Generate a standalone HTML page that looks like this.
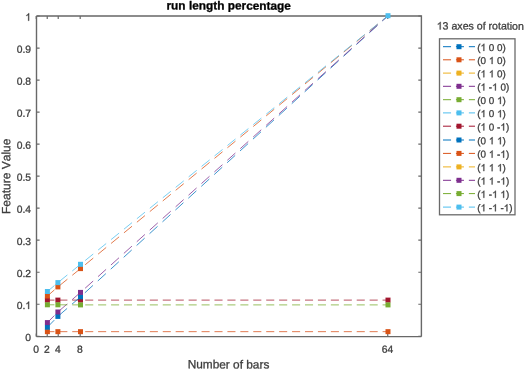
<!DOCTYPE html>
<html><head><meta charset="utf-8"><title>run length percentage</title><style>
html,body{margin:0;padding:0;background:#fff;}
body{width:525px;height:370px;overflow:hidden;}
svg{display:block;font-family:"Liberation Sans",sans-serif;font-kerning:none;}
text{stroke-width:0.3px;stroke-linejoin:round;}
tspan.o{fill-opacity:0;stroke-opacity:0;}
</style></head><body>
<svg width="525" height="370" viewBox="0 0 525 370">
<filter id="bl" x="-5%" y="-5%" width="110%" height="110%"><feGaussianBlur stdDeviation="0.45"/></filter>
<rect x="0" y="0" width="525" height="370" fill="#fff"/>
<g filter="url(#bl)">
<path d="M36.5 336.6 H421.4 M36.5 336.6 V16.0 M36.5 16.0 H421.4 V336.6" fill="none" stroke="#686868" stroke-width="1.4"/>
<path d="M36.5 336.30 h3.1 M421.4 336.30 h-3.1 M36.5 304.27 h3.1 M421.4 304.27 h-3.1 M36.5 272.24 h3.1 M421.4 272.24 h-3.1 M36.5 240.21 h3.1 M421.4 240.21 h-3.1 M36.5 208.18 h3.1 M421.4 208.18 h-3.1 M36.5 176.15 h3.1 M421.4 176.15 h-3.1 M36.5 144.12 h3.1 M421.4 144.12 h-3.1 M36.5 112.09 h3.1 M421.4 112.09 h-3.1 M36.5 80.06 h3.1 M421.4 80.06 h-3.1 M36.5 48.03 h3.1 M421.4 48.03 h-3.1 M36.5 16.00 h3.1 M421.4 16.00 h-3.1 M36.25 336.6 v-3.1 M36.25 16.0 v3.1 M47.23 336.6 v-3.1 M47.23 16.0 v3.1 M58.22 336.6 v-3.1 M58.22 16.0 v3.1 M80.19 336.6 v-3.1 M80.19 16.0 v3.1 M387.75 336.6 v-3.1 M387.75 16.0 v3.1" fill="none" stroke="#686868" stroke-width="1.2"/>
<path d="M47.40 331.65L54.45 331.65 M59.33 331.65L67.38 331.65 M72.26 331.65L80.31 331.65 M80.31 331.65L80.31 331.65 M85.19 331.65L93.24 331.65 M98.12 331.65L106.17 331.65 M106.17 331.65L106.17 331.65 M111.05 331.65L119.10 331.65 M119.10 331.65L119.10 331.65 M123.98 331.65L132.03 331.65 M132.03 331.65L132.03 331.65 M136.91 331.65L144.96 331.65 M149.84 331.65L157.89 331.65 M157.89 331.65L157.89 331.65 M162.77 331.65L170.82 331.65 M175.70 331.65L183.75 331.65 M183.75 331.65L183.75 331.65 M188.63 331.65L196.68 331.65 M201.56 331.65L209.61 331.65 M209.61 331.65L209.61 331.65 M214.49 331.65L222.54 331.65 M222.54 331.65L222.54 331.65 M227.42 331.65L235.47 331.65 M235.47 331.65L235.47 331.65 M240.35 331.65L248.40 331.65 M253.28 331.65L261.33 331.65 M266.21 331.65L274.26 331.65 M274.26 331.65L274.26 331.65 M279.14 331.65L287.19 331.65 M287.19 331.65L287.19 331.65 M292.07 331.65L300.12 331.65 M305.00 331.65L313.05 331.65 M313.05 331.65L313.05 331.65 M317.93 331.65L325.98 331.65 M325.98 331.65L325.98 331.65 M330.86 331.65L338.91 331.65 M338.91 331.65L338.91 331.65 M343.79 331.65L351.84 331.65 M356.72 331.65L364.77 331.65 M369.65 331.65L377.70 331.65 M382.58 331.65L388.00 331.65" fill="none" stroke="#D95319" stroke-width="0.9" stroke-opacity="0.85"/>
<rect x="44.90" y="329.15" width="5.0" height="5.0" fill="#D95319"/>
<rect x="55.40" y="329.15" width="5.0" height="5.0" fill="#D95319"/>
<rect x="78.00" y="329.15" width="5.0" height="5.0" fill="#D95319"/>
<rect x="385.50" y="329.15" width="5.0" height="5.0" fill="#D95319"/>
<path d="M47.40 300.10L54.45 300.10 M59.33 300.10L67.38 300.10 M72.26 300.10L80.31 300.10 M80.31 300.10L80.31 300.10 M85.19 300.10L93.24 300.10 M98.12 300.10L106.17 300.10 M106.17 300.10L106.17 300.10 M111.05 300.10L119.10 300.10 M119.10 300.10L119.10 300.10 M123.98 300.10L132.03 300.10 M132.03 300.10L132.03 300.10 M136.91 300.10L144.96 300.10 M149.84 300.10L157.89 300.10 M157.89 300.10L157.89 300.10 M162.77 300.10L170.82 300.10 M175.70 300.10L183.75 300.10 M183.75 300.10L183.75 300.10 M188.63 300.10L196.68 300.10 M201.56 300.10L209.61 300.10 M209.61 300.10L209.61 300.10 M214.49 300.10L222.54 300.10 M222.54 300.10L222.54 300.10 M227.42 300.10L235.47 300.10 M235.47 300.10L235.47 300.10 M240.35 300.10L248.40 300.10 M253.28 300.10L261.33 300.10 M266.21 300.10L274.26 300.10 M274.26 300.10L274.26 300.10 M279.14 300.10L287.19 300.10 M287.19 300.10L287.19 300.10 M292.07 300.10L300.12 300.10 M305.00 300.10L313.05 300.10 M313.05 300.10L313.05 300.10 M317.93 300.10L325.98 300.10 M325.98 300.10L325.98 300.10 M330.86 300.10L338.91 300.10 M338.91 300.10L338.91 300.10 M343.79 300.10L351.84 300.10 M356.72 300.10L364.77 300.10 M369.65 300.10L377.70 300.10 M382.58 300.10L388.00 300.10" fill="none" stroke="#A2142F" stroke-width="0.9" stroke-opacity="0.85"/>
<rect x="44.90" y="297.60" width="5.0" height="5.0" fill="#A2142F"/>
<rect x="55.40" y="297.60" width="5.0" height="5.0" fill="#A2142F"/>
<rect x="78.00" y="297.60" width="5.0" height="5.0" fill="#A2142F"/>
<rect x="385.50" y="297.60" width="5.0" height="5.0" fill="#A2142F"/>
<path d="M47.40 327.20L54.25 320.15 M59.03 315.42L67.08 308.44 M71.96 304.21L80.01 297.22 M80.01 297.22L80.01 297.22 M84.89 292.79L92.94 285.43 M97.82 280.97L105.87 273.61 M105.87 273.61L105.87 273.61 M110.75 269.15L118.80 261.79 M118.80 261.79L118.80 261.79 M123.68 257.33L131.73 249.97 M131.73 249.97L131.73 249.97 M136.61 245.51L144.66 238.15 M149.54 233.69L157.59 226.33 M157.59 226.33L157.59 226.33 M162.47 221.87L170.52 214.51 M175.40 210.05L183.45 202.69 M183.45 202.69L183.45 202.69 M188.33 198.23L196.38 190.87 M201.26 186.41L209.31 179.05 M209.31 179.05L209.31 179.05 M214.19 174.59L222.24 167.23 M222.24 167.23L222.24 167.23 M227.12 162.77L235.17 155.41 M235.17 155.41L235.17 155.41 M240.05 150.95L248.10 143.59 M252.98 139.13L261.03 131.77 M265.91 127.31L273.96 119.95 M273.96 119.95L273.96 119.95 M278.84 115.49L286.89 108.13 M286.89 108.13L286.89 108.13 M291.77 103.67L299.82 96.31 M304.70 91.85L312.75 84.49 M312.75 84.49L312.75 84.49 M317.63 80.03L325.68 72.67 M325.68 72.67L325.68 72.67 M330.56 68.21L338.61 60.85 M338.61 60.85L338.61 60.85 M343.49 56.39L351.54 49.03 M356.42 44.57L364.47 37.21 M369.35 32.75L377.40 25.39 M382.28 20.93L388.00 15.70" fill="none" stroke="#0072BD" stroke-width="0.9" stroke-opacity="0.85"/>
<rect x="44.90" y="324.70" width="5.0" height="5.0" fill="#0072BD"/>
<rect x="55.40" y="313.90" width="5.0" height="5.0" fill="#0072BD"/>
<rect x="78.00" y="294.30" width="5.0" height="5.0" fill="#0072BD"/>
<path d="M47.40 296.00L54.45 289.89 M59.33 285.74L67.38 279.22 M72.26 275.27L80.31 268.75 M80.31 268.75L80.31 268.75 M85.19 264.74L93.24 258.12 M98.12 254.11L106.17 247.49 M106.17 247.49L106.17 247.49 M111.05 243.47L119.10 236.85 M119.10 236.85L119.10 236.85 M123.98 232.84L132.03 226.22 M132.03 226.22L132.03 226.22 M136.91 222.21L144.96 215.59 M149.84 211.57L157.89 204.95 M157.89 204.95L157.89 204.95 M162.77 200.94L170.82 194.32 M175.70 190.30L183.75 183.68 M183.75 183.68L183.75 183.68 M188.63 179.67L196.68 173.05 M201.56 169.04L209.61 162.41 M209.61 162.41L209.61 162.41 M214.49 158.40L222.54 151.78 M222.54 151.78L222.54 151.78 M227.42 147.77L235.47 141.15 M235.47 141.15L235.47 141.15 M240.35 137.13L248.40 130.51 M253.28 126.50L261.33 119.88 M266.21 115.86L274.26 109.24 M274.26 109.24L274.26 109.24 M279.14 105.23L287.19 98.61 M287.19 98.61L287.19 98.61 M292.07 94.60L300.12 87.98 M305.00 83.96L313.05 77.34 M313.05 77.34L313.05 77.34 M317.93 73.33L325.98 66.71 M325.98 66.71L325.98 66.71 M330.86 62.69L338.91 56.07 M338.91 56.07L338.91 56.07 M343.79 52.06L351.84 45.44 M356.72 41.43L364.77 34.81 M369.65 30.79L377.70 24.17 M382.58 20.16L388.00 15.70" fill="none" stroke="#D95319" stroke-width="0.9" stroke-opacity="0.85"/>
<rect x="44.90" y="293.50" width="5.0" height="5.0" fill="#D95319"/>
<rect x="55.40" y="284.40" width="5.0" height="5.0" fill="#D95319"/>
<rect x="78.00" y="266.10" width="5.0" height="5.0" fill="#D95319"/>
<path d="M47.40 322.60L54.38 315.55 M59.23 310.85L67.28 303.87 M72.16 299.63L80.21 292.65 M80.21 292.65L80.21 292.65 M85.09 288.27L93.14 281.03 M98.02 276.63L106.07 269.39 M106.07 269.39L106.07 269.39 M110.95 265.00L119.00 257.76 M119.00 257.76L119.00 257.76 M123.88 253.37L131.93 246.12 M131.93 246.12L131.93 246.12 M136.81 241.73L144.86 234.49 M149.74 230.10L157.79 222.85 M157.79 222.85L157.79 222.85 M162.67 218.46L170.72 211.22 M175.60 206.83L183.65 199.58 M183.65 199.58L183.65 199.58 M188.53 195.19L196.58 187.95 M201.46 183.56L209.51 176.31 M209.51 176.31L209.51 176.31 M214.39 171.92L222.44 164.68 M222.44 164.68L222.44 164.68 M227.32 160.29L235.37 153.04 M235.37 153.04L235.37 153.04 M240.25 148.65L248.30 141.41 M253.18 137.02L261.23 129.77 M266.11 125.38L274.16 118.14 M274.16 118.14L274.16 118.14 M279.04 113.75L287.09 106.50 M287.09 106.50L287.09 106.50 M291.97 102.11L300.02 94.87 M304.90 90.48L312.95 83.23 M312.95 83.23L312.95 83.23 M317.83 78.84L325.88 71.60 M325.88 71.60L325.88 71.60 M330.76 67.21L338.81 59.96 M338.81 59.96L338.81 59.96 M343.69 55.57L351.74 48.33 M356.62 43.94L364.67 36.69 M369.55 32.30L377.60 25.06 M382.48 20.67L388.00 15.70" fill="none" stroke="#7E2F8E" stroke-width="0.9" stroke-opacity="0.85"/>
<rect x="44.90" y="320.10" width="5.0" height="5.0" fill="#7E2F8E"/>
<rect x="55.40" y="309.50" width="5.0" height="5.0" fill="#7E2F8E"/>
<rect x="78.00" y="289.90" width="5.0" height="5.0" fill="#7E2F8E"/>
<path d="M47.40 304.80L54.45 304.80 M59.33 304.81L67.38 304.84 M72.26 304.86L80.31 304.90 M80.31 304.90L80.31 304.90 M85.19 304.90L93.24 304.90 M98.12 304.90L106.17 304.90 M106.17 304.90L106.17 304.90 M111.05 304.90L119.10 304.90 M119.10 304.90L119.10 304.90 M123.98 304.90L132.03 304.90 M132.03 304.90L132.03 304.90 M136.91 304.90L144.96 304.90 M149.84 304.90L157.89 304.90 M157.89 304.90L157.89 304.90 M162.77 304.90L170.82 304.90 M175.70 304.90L183.75 304.90 M183.75 304.90L183.75 304.90 M188.63 304.90L196.68 304.90 M201.56 304.90L209.61 304.90 M209.61 304.90L209.61 304.90 M214.49 304.90L222.54 304.90 M222.54 304.90L222.54 304.90 M227.42 304.90L235.47 304.90 M235.47 304.90L235.47 304.90 M240.35 304.90L248.40 304.90 M253.28 304.90L261.33 304.90 M266.21 304.90L274.26 304.90 M274.26 304.90L274.26 304.90 M279.14 304.90L287.19 304.90 M287.19 304.90L287.19 304.90 M292.07 304.90L300.12 304.90 M305.00 304.90L313.05 304.90 M313.05 304.90L313.05 304.90 M317.93 304.90L325.98 304.90 M325.98 304.90L325.98 304.90 M330.86 304.90L338.91 304.90 M338.91 304.90L338.91 304.90 M343.79 304.90L351.84 304.90 M356.72 304.90L364.77 304.90 M369.65 304.90L377.70 304.90 M382.58 304.90L388.00 304.90" fill="none" stroke="#77AC30" stroke-width="0.9" stroke-opacity="0.85"/>
<rect x="44.90" y="302.30" width="5.0" height="5.0" fill="#77AC30"/>
<rect x="55.40" y="302.30" width="5.0" height="5.0" fill="#77AC30"/>
<rect x="78.00" y="302.40" width="5.0" height="5.0" fill="#77AC30"/>
<rect x="385.50" y="302.40" width="5.0" height="5.0" fill="#77AC30"/>
<path d="M47.40 291.50L54.45 285.52 M59.33 281.44L67.38 274.92 M72.26 270.97L80.31 264.45 M80.31 264.45L80.31 264.45 M85.19 260.51L93.24 254.00 M98.12 250.06L106.17 243.55 M106.17 243.55L106.17 243.55 M111.05 239.60L119.10 233.09 M119.10 233.09L119.10 233.09 M123.98 229.15L132.03 222.64 M132.03 222.64L132.03 222.64 M136.91 218.70L144.96 212.19 M149.84 208.24L157.89 201.73 M157.89 201.73L157.89 201.73 M162.77 197.79L170.82 191.28 M175.70 187.34L183.75 180.83 M183.75 180.83L183.75 180.83 M188.63 176.88L196.68 170.37 M201.56 166.43L209.61 159.92 M209.61 159.92L209.61 159.92 M214.49 155.98L222.54 149.47 M222.54 149.47L222.54 149.47 M227.42 145.52L235.47 139.01 M235.47 139.01L235.47 139.01 M240.35 135.07L248.40 128.56 M253.28 124.62L261.33 118.11 M266.21 114.16L274.26 107.65 M274.26 107.65L274.26 107.65 M279.14 103.71L287.19 97.20 M287.19 97.20L287.19 97.20 M292.07 93.26L300.12 86.75 M305.00 82.80L313.05 76.29 M313.05 76.29L313.05 76.29 M317.93 72.35L325.98 65.84 M325.98 65.84L325.98 65.84 M330.86 61.90L338.91 55.39 M338.91 55.39L338.91 55.39 M343.79 51.44L351.84 44.93 M356.72 40.99L364.77 34.48 M369.65 30.54L377.70 24.03 M382.58 20.08L388.00 15.70" fill="none" stroke="#4DBEEE" stroke-width="0.9" stroke-opacity="0.85"/>
<rect x="44.90" y="289.00" width="5.0" height="5.0" fill="#4DBEEE"/>
<rect x="55.40" y="280.10" width="5.0" height="5.0" fill="#4DBEEE"/>
<rect x="78.00" y="261.80" width="5.0" height="5.0" fill="#4DBEEE"/>
<rect x="385.50" y="13.20" width="5.0" height="5.0" fill="#4DBEEE"/>
<rect x="439.5" y="38.8" width="75.5" height="176" fill="#fff" stroke="#6a6a6a" stroke-width="1.3"/>
<path d="M443.00 46.70L451.05 46.70 M455.93 46.70L463.98 46.70 M468.86 46.70L475.00 46.70" fill="none" stroke="#0072BD" stroke-width="1"/>
<rect x="456.50" y="44.20" width="5.0" height="5.0" fill="#0072BD"/>
<path d="M443.00 59.80L451.05 59.80 M455.93 59.80L463.98 59.80 M468.86 59.80L475.00 59.80" fill="none" stroke="#D95319" stroke-width="1"/>
<rect x="456.50" y="57.30" width="5.0" height="5.0" fill="#D95319"/>
<path d="M443.00 73.10L451.05 73.10 M455.93 73.10L463.98 73.10 M468.86 73.10L475.00 73.10" fill="none" stroke="#EDB120" stroke-width="1"/>
<rect x="456.50" y="70.60" width="5.0" height="5.0" fill="#EDB120"/>
<path d="M443.00 86.30L451.05 86.30 M455.93 86.30L463.98 86.30 M468.86 86.30L475.00 86.30" fill="none" stroke="#7E2F8E" stroke-width="1"/>
<rect x="456.50" y="83.80" width="5.0" height="5.0" fill="#7E2F8E"/>
<path d="M443.00 99.70L451.05 99.70 M455.93 99.70L463.98 99.70 M468.86 99.70L475.00 99.70" fill="none" stroke="#77AC30" stroke-width="1"/>
<rect x="456.50" y="97.20" width="5.0" height="5.0" fill="#77AC30"/>
<path d="M443.00 112.90L451.05 112.90 M455.93 112.90L463.98 112.90 M468.86 112.90L475.00 112.90" fill="none" stroke="#4DBEEE" stroke-width="1"/>
<rect x="456.50" y="110.40" width="5.0" height="5.0" fill="#4DBEEE"/>
<path d="M443.00 126.20L451.05 126.20 M455.93 126.20L463.98 126.20 M468.86 126.20L475.00 126.20" fill="none" stroke="#A2142F" stroke-width="1"/>
<rect x="456.50" y="123.70" width="5.0" height="5.0" fill="#A2142F"/>
<path d="M443.00 140.00L451.05 140.00 M455.93 140.00L463.98 140.00 M468.86 140.00L475.00 140.00" fill="none" stroke="#0072BD" stroke-width="1"/>
<rect x="456.50" y="137.50" width="5.0" height="5.0" fill="#0072BD"/>
<path d="M443.00 153.40L451.05 153.40 M455.93 153.40L463.98 153.40 M468.86 153.40L475.00 153.40" fill="none" stroke="#D95319" stroke-width="1"/>
<rect x="456.50" y="150.90" width="5.0" height="5.0" fill="#D95319"/>
<path d="M443.00 166.90L451.05 166.90 M455.93 166.90L463.98 166.90 M468.86 166.90L475.00 166.90" fill="none" stroke="#EDB120" stroke-width="1"/>
<rect x="456.50" y="164.40" width="5.0" height="5.0" fill="#EDB120"/>
<path d="M443.00 180.30L451.05 180.30 M455.93 180.30L463.98 180.30 M468.86 180.30L475.00 180.30" fill="none" stroke="#7E2F8E" stroke-width="1"/>
<rect x="456.50" y="177.80" width="5.0" height="5.0" fill="#7E2F8E"/>
<path d="M443.00 193.60L451.05 193.60 M455.93 193.60L463.98 193.60 M468.86 193.60L475.00 193.60" fill="none" stroke="#77AC30" stroke-width="1"/>
<rect x="456.50" y="191.10" width="5.0" height="5.0" fill="#77AC30"/>
<path d="M443.00 207.10L451.05 207.10 M455.93 207.10L463.98 207.10 M468.86 207.10L475.00 207.10" fill="none" stroke="#4DBEEE" stroke-width="1"/>
<rect x="456.50" y="204.60" width="5.0" height="5.0" fill="#4DBEEE"/>
<g>
<text transform="translate(31.00,341.00) rotate(0.1)" font-size="10.3px" fill="#3e3e3e" stroke="#3e3e3e" text-anchor="end">0</text>
<text transform="translate(31.00,308.97) rotate(0.1)" font-size="10.3px" fill="#3e3e3e" stroke="#3e3e3e" text-anchor="end">0.<tspan class="o">1</tspan></text>
<text transform="translate(31.00,276.94) rotate(0.1)" font-size="10.3px" fill="#3e3e3e" stroke="#3e3e3e" text-anchor="end">0.2</text>
<text transform="translate(31.00,244.91) rotate(0.1)" font-size="10.3px" fill="#3e3e3e" stroke="#3e3e3e" text-anchor="end">0.3</text>
<text transform="translate(31.00,212.88) rotate(0.1)" font-size="10.3px" fill="#3e3e3e" stroke="#3e3e3e" text-anchor="end">0.4</text>
<text transform="translate(31.00,180.85) rotate(0.1)" font-size="10.3px" fill="#3e3e3e" stroke="#3e3e3e" text-anchor="end">0.5</text>
<text transform="translate(31.00,148.82) rotate(0.1)" font-size="10.3px" fill="#3e3e3e" stroke="#3e3e3e" text-anchor="end">0.6</text>
<text transform="translate(31.00,116.79) rotate(0.1)" font-size="10.3px" fill="#3e3e3e" stroke="#3e3e3e" text-anchor="end">0.7</text>
<text transform="translate(31.00,84.76) rotate(0.1)" font-size="10.3px" fill="#3e3e3e" stroke="#3e3e3e" text-anchor="end">0.8</text>
<text transform="translate(31.00,52.73) rotate(0.1)" font-size="10.3px" fill="#3e3e3e" stroke="#3e3e3e" text-anchor="end">0.9</text>
<text transform="translate(31.00,20.70) rotate(0.1)" font-size="10.3px" fill="#3e3e3e" stroke="#3e3e3e" text-anchor="end"><tspan class="o">1</tspan></text>
<text transform="translate(36.00,352.70) rotate(0.1)" font-size="10.3px" fill="#3e3e3e" stroke="#3e3e3e" text-anchor="middle">0</text>
<text transform="translate(46.98,352.70) rotate(0.1)" font-size="10.3px" fill="#3e3e3e" stroke="#3e3e3e" text-anchor="middle">2</text>
<text transform="translate(57.97,352.70) rotate(0.1)" font-size="10.3px" fill="#3e3e3e" stroke="#3e3e3e" text-anchor="middle">4</text>
<text transform="translate(79.94,352.70) rotate(0.1)" font-size="10.3px" fill="#3e3e3e" stroke="#3e3e3e" text-anchor="middle">8</text>
<text transform="translate(387.50,352.70) rotate(0.1)" font-size="10.3px" fill="#3e3e3e" stroke="#3e3e3e" text-anchor="middle">64</text>
<text transform="translate(228.70,9.60) rotate(0.1)" font-size="11.85px" fill="#000" stroke="#000" text-anchor="middle" font-weight="bold">run length percentage</text>
<text transform="translate(228.50,368.40) rotate(0.1)" font-size="11.85px" fill="#3e3e3e" stroke="#3e3e3e" text-anchor="middle">Number of bars</text>
<text transform="translate(10.30,176.30) rotate(-89.9)" font-size="12.0px" fill="#3e3e3e" stroke="#3e3e3e" text-anchor="middle">Feature Value</text>
<text transform="translate(436.70,29.50) rotate(0.1)" font-size="10.6px" fill="#3e3e3e" stroke="#3e3e3e"><tspan class="o">1</tspan>3 axes of rotation</text>
<text transform="translate(477.30,50.90) rotate(0.1)" font-size="9.9px" fill="#3e3e3e" stroke="#3e3e3e">(<tspan class="o">1</tspan> 0 0)</text>
<text transform="translate(477.30,64.00) rotate(0.1)" font-size="9.9px" fill="#3e3e3e" stroke="#3e3e3e">(0 <tspan class="o">1</tspan> 0)</text>
<text transform="translate(477.30,77.30) rotate(0.1)" font-size="9.9px" fill="#3e3e3e" stroke="#3e3e3e">(<tspan class="o">1</tspan> <tspan class="o">1</tspan> 0)</text>
<text transform="translate(477.30,90.50) rotate(0.1)" font-size="9.9px" fill="#3e3e3e" stroke="#3e3e3e">(<tspan class="o">1</tspan> -<tspan class="o">1</tspan> 0)</text>
<text transform="translate(477.30,103.90) rotate(0.1)" font-size="9.9px" fill="#3e3e3e" stroke="#3e3e3e">(0 0 <tspan class="o">1</tspan>)</text>
<text transform="translate(477.30,117.10) rotate(0.1)" font-size="9.9px" fill="#3e3e3e" stroke="#3e3e3e">(<tspan class="o">1</tspan> 0 <tspan class="o">1</tspan>)</text>
<text transform="translate(477.30,130.40) rotate(0.1)" font-size="9.9px" fill="#3e3e3e" stroke="#3e3e3e">(<tspan class="o">1</tspan> 0 -<tspan class="o">1</tspan>)</text>
<text transform="translate(477.30,144.20) rotate(0.1)" font-size="9.9px" fill="#3e3e3e" stroke="#3e3e3e">(0 <tspan class="o">1</tspan> <tspan class="o">1</tspan>)</text>
<text transform="translate(477.30,157.60) rotate(0.1)" font-size="9.9px" fill="#3e3e3e" stroke="#3e3e3e">(0 <tspan class="o">1</tspan> -<tspan class="o">1</tspan>)</text>
<text transform="translate(477.30,171.10) rotate(0.1)" font-size="9.9px" fill="#3e3e3e" stroke="#3e3e3e">(<tspan class="o">1</tspan> <tspan class="o">1</tspan> <tspan class="o">1</tspan>)</text>
<text transform="translate(477.30,184.50) rotate(0.1)" font-size="9.9px" fill="#3e3e3e" stroke="#3e3e3e">(<tspan class="o">1</tspan> <tspan class="o">1</tspan> -<tspan class="o">1</tspan>)</text>
<text transform="translate(477.30,197.80) rotate(0.1)" font-size="9.9px" fill="#3e3e3e" stroke="#3e3e3e">(<tspan class="o">1</tspan> -<tspan class="o">1</tspan> <tspan class="o">1</tspan>)</text>
<text transform="translate(477.30,211.30) rotate(0.1)" font-size="9.9px" fill="#3e3e3e" stroke="#3e3e3e">(<tspan class="o">1</tspan> -<tspan class="o">1</tspan> -<tspan class="o">1</tspan>)</text>
<path transform="translate(31.00,308.97) rotate(0.1) translate(-5.728,0) scale(0.005029,-0.005029)" d="M763 0H583V1147Q518 1085 412.5 1023Q307 961 223 930V1104Q374 1175 487 1276Q600 1377 647 1472H763V0Z" fill="#3e3e3e" stroke="#3e3e3e" stroke-width="59.7"/><path transform="translate(31.00,20.70) rotate(0.1) translate(-5.728,0) scale(0.005029,-0.005029)" d="M763 0H583V1147Q518 1085 412.5 1023Q307 961 223 930V1104Q374 1175 487 1276Q600 1377 647 1472H763V0Z" fill="#3e3e3e" stroke="#3e3e3e" stroke-width="59.7"/><path transform="translate(436.70,29.50) rotate(0.1) translate(0.000,0) scale(0.005176,-0.005176)" d="M763 0H583V1147Q518 1085 412.5 1023Q307 961 223 930V1104Q374 1175 487 1276Q600 1377 647 1472H763V0Z" fill="#3e3e3e" stroke="#3e3e3e" stroke-width="58.0"/><path transform="translate(477.30,50.90) rotate(0.1) translate(3.297,0) scale(0.004834,-0.004834)" d="M763 0H583V1147Q518 1085 412.5 1023Q307 961 223 930V1104Q374 1175 487 1276Q600 1377 647 1472H763V0Z" fill="#3e3e3e" stroke="#3e3e3e" stroke-width="62.1"/><path transform="translate(477.30,64.00) rotate(0.1) translate(11.553,0) scale(0.004834,-0.004834)" d="M763 0H583V1147Q518 1085 412.5 1023Q307 961 223 930V1104Q374 1175 487 1276Q600 1377 647 1472H763V0Z" fill="#3e3e3e" stroke="#3e3e3e" stroke-width="62.1"/><path transform="translate(477.30,77.30) rotate(0.1) translate(3.297,0) scale(0.004834,-0.004834)" d="M763 0H583V1147Q518 1085 412.5 1023Q307 961 223 930V1104Q374 1175 487 1276Q600 1377 647 1472H763V0Z" fill="#3e3e3e" stroke="#3e3e3e" stroke-width="62.1"/><path transform="translate(477.30,77.30) rotate(0.1) translate(11.553,0) scale(0.004834,-0.004834)" d="M763 0H583V1147Q518 1085 412.5 1023Q307 961 223 930V1104Q374 1175 487 1276Q600 1377 647 1472H763V0Z" fill="#3e3e3e" stroke="#3e3e3e" stroke-width="62.1"/><path transform="translate(477.30,90.50) rotate(0.1) translate(3.297,0) scale(0.004834,-0.004834)" d="M763 0H583V1147Q518 1085 412.5 1023Q307 961 223 930V1104Q374 1175 487 1276Q600 1377 647 1472H763V0Z" fill="#3e3e3e" stroke="#3e3e3e" stroke-width="62.1"/><path transform="translate(477.30,90.50) rotate(0.1) translate(14.850,0) scale(0.004834,-0.004834)" d="M763 0H583V1147Q518 1085 412.5 1023Q307 961 223 930V1104Q374 1175 487 1276Q600 1377 647 1472H763V0Z" fill="#3e3e3e" stroke="#3e3e3e" stroke-width="62.1"/><path transform="translate(477.30,103.90) rotate(0.1) translate(19.810,0) scale(0.004834,-0.004834)" d="M763 0H583V1147Q518 1085 412.5 1023Q307 961 223 930V1104Q374 1175 487 1276Q600 1377 647 1472H763V0Z" fill="#3e3e3e" stroke="#3e3e3e" stroke-width="62.1"/><path transform="translate(477.30,117.10) rotate(0.1) translate(3.297,0) scale(0.004834,-0.004834)" d="M763 0H583V1147Q518 1085 412.5 1023Q307 961 223 930V1104Q374 1175 487 1276Q600 1377 647 1472H763V0Z" fill="#3e3e3e" stroke="#3e3e3e" stroke-width="62.1"/><path transform="translate(477.30,117.10) rotate(0.1) translate(19.810,0) scale(0.004834,-0.004834)" d="M763 0H583V1147Q518 1085 412.5 1023Q307 961 223 930V1104Q374 1175 487 1276Q600 1377 647 1472H763V0Z" fill="#3e3e3e" stroke="#3e3e3e" stroke-width="62.1"/><path transform="translate(477.30,130.40) rotate(0.1) translate(3.297,0) scale(0.004834,-0.004834)" d="M763 0H583V1147Q518 1085 412.5 1023Q307 961 223 930V1104Q374 1175 487 1276Q600 1377 647 1472H763V0Z" fill="#3e3e3e" stroke="#3e3e3e" stroke-width="62.1"/><path transform="translate(477.30,130.40) rotate(0.1) translate(23.106,0) scale(0.004834,-0.004834)" d="M763 0H583V1147Q518 1085 412.5 1023Q307 961 223 930V1104Q374 1175 487 1276Q600 1377 647 1472H763V0Z" fill="#3e3e3e" stroke="#3e3e3e" stroke-width="62.1"/><path transform="translate(477.30,144.20) rotate(0.1) translate(11.553,0) scale(0.004834,-0.004834)" d="M763 0H583V1147Q518 1085 412.5 1023Q307 961 223 930V1104Q374 1175 487 1276Q600 1377 647 1472H763V0Z" fill="#3e3e3e" stroke="#3e3e3e" stroke-width="62.1"/><path transform="translate(477.30,144.20) rotate(0.1) translate(19.810,0) scale(0.004834,-0.004834)" d="M763 0H583V1147Q518 1085 412.5 1023Q307 961 223 930V1104Q374 1175 487 1276Q600 1377 647 1472H763V0Z" fill="#3e3e3e" stroke="#3e3e3e" stroke-width="62.1"/><path transform="translate(477.30,157.60) rotate(0.1) translate(11.553,0) scale(0.004834,-0.004834)" d="M763 0H583V1147Q518 1085 412.5 1023Q307 961 223 930V1104Q374 1175 487 1276Q600 1377 647 1472H763V0Z" fill="#3e3e3e" stroke="#3e3e3e" stroke-width="62.1"/><path transform="translate(477.30,157.60) rotate(0.1) translate(23.106,0) scale(0.004834,-0.004834)" d="M763 0H583V1147Q518 1085 412.5 1023Q307 961 223 930V1104Q374 1175 487 1276Q600 1377 647 1472H763V0Z" fill="#3e3e3e" stroke="#3e3e3e" stroke-width="62.1"/><path transform="translate(477.30,171.10) rotate(0.1) translate(3.297,0) scale(0.004834,-0.004834)" d="M763 0H583V1147Q518 1085 412.5 1023Q307 961 223 930V1104Q374 1175 487 1276Q600 1377 647 1472H763V0Z" fill="#3e3e3e" stroke="#3e3e3e" stroke-width="62.1"/><path transform="translate(477.30,171.10) rotate(0.1) translate(11.553,0) scale(0.004834,-0.004834)" d="M763 0H583V1147Q518 1085 412.5 1023Q307 961 223 930V1104Q374 1175 487 1276Q600 1377 647 1472H763V0Z" fill="#3e3e3e" stroke="#3e3e3e" stroke-width="62.1"/><path transform="translate(477.30,171.10) rotate(0.1) translate(19.810,0) scale(0.004834,-0.004834)" d="M763 0H583V1147Q518 1085 412.5 1023Q307 961 223 930V1104Q374 1175 487 1276Q600 1377 647 1472H763V0Z" fill="#3e3e3e" stroke="#3e3e3e" stroke-width="62.1"/><path transform="translate(477.30,184.50) rotate(0.1) translate(3.297,0) scale(0.004834,-0.004834)" d="M763 0H583V1147Q518 1085 412.5 1023Q307 961 223 930V1104Q374 1175 487 1276Q600 1377 647 1472H763V0Z" fill="#3e3e3e" stroke="#3e3e3e" stroke-width="62.1"/><path transform="translate(477.30,184.50) rotate(0.1) translate(11.553,0) scale(0.004834,-0.004834)" d="M763 0H583V1147Q518 1085 412.5 1023Q307 961 223 930V1104Q374 1175 487 1276Q600 1377 647 1472H763V0Z" fill="#3e3e3e" stroke="#3e3e3e" stroke-width="62.1"/><path transform="translate(477.30,184.50) rotate(0.1) translate(23.106,0) scale(0.004834,-0.004834)" d="M763 0H583V1147Q518 1085 412.5 1023Q307 961 223 930V1104Q374 1175 487 1276Q600 1377 647 1472H763V0Z" fill="#3e3e3e" stroke="#3e3e3e" stroke-width="62.1"/><path transform="translate(477.30,197.80) rotate(0.1) translate(3.297,0) scale(0.004834,-0.004834)" d="M763 0H583V1147Q518 1085 412.5 1023Q307 961 223 930V1104Q374 1175 487 1276Q600 1377 647 1472H763V0Z" fill="#3e3e3e" stroke="#3e3e3e" stroke-width="62.1"/><path transform="translate(477.30,197.80) rotate(0.1) translate(14.850,0) scale(0.004834,-0.004834)" d="M763 0H583V1147Q518 1085 412.5 1023Q307 961 223 930V1104Q374 1175 487 1276Q600 1377 647 1472H763V0Z" fill="#3e3e3e" stroke="#3e3e3e" stroke-width="62.1"/><path transform="translate(477.30,197.80) rotate(0.1) translate(23.106,0) scale(0.004834,-0.004834)" d="M763 0H583V1147Q518 1085 412.5 1023Q307 961 223 930V1104Q374 1175 487 1276Q600 1377 647 1472H763V0Z" fill="#3e3e3e" stroke="#3e3e3e" stroke-width="62.1"/><path transform="translate(477.30,211.30) rotate(0.1) translate(3.297,0) scale(0.004834,-0.004834)" d="M763 0H583V1147Q518 1085 412.5 1023Q307 961 223 930V1104Q374 1175 487 1276Q600 1377 647 1472H763V0Z" fill="#3e3e3e" stroke="#3e3e3e" stroke-width="62.1"/><path transform="translate(477.30,211.30) rotate(0.1) translate(14.850,0) scale(0.004834,-0.004834)" d="M763 0H583V1147Q518 1085 412.5 1023Q307 961 223 930V1104Q374 1175 487 1276Q600 1377 647 1472H763V0Z" fill="#3e3e3e" stroke="#3e3e3e" stroke-width="62.1"/><path transform="translate(477.30,211.30) rotate(0.1) translate(26.403,0) scale(0.004834,-0.004834)" d="M763 0H583V1147Q518 1085 412.5 1023Q307 961 223 930V1104Q374 1175 487 1276Q600 1377 647 1472H763V0Z" fill="#3e3e3e" stroke="#3e3e3e" stroke-width="62.1"/>
</g>
</g></svg>
</body></html>
